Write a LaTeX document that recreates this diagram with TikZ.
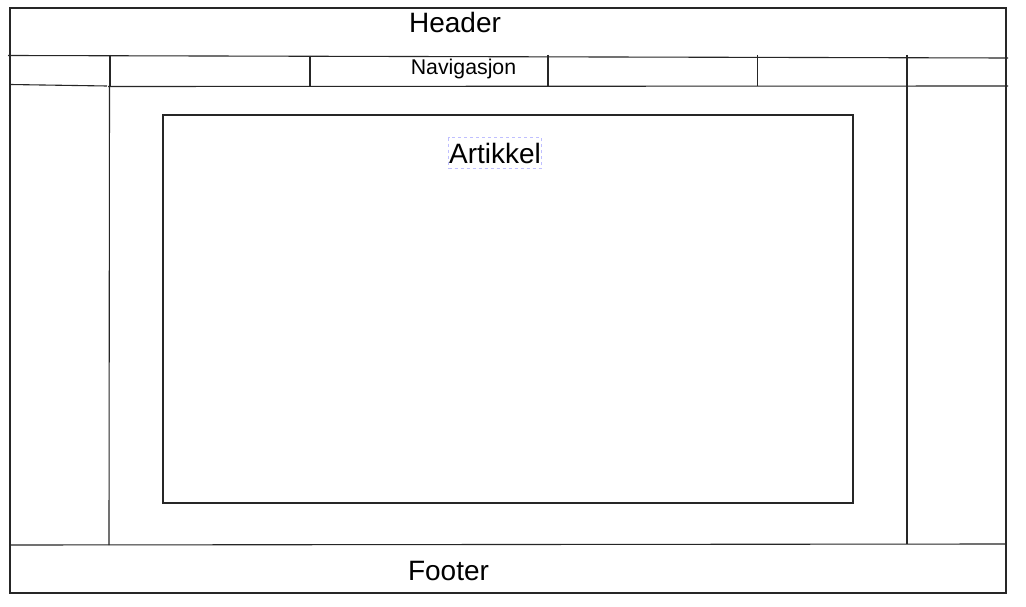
\documentclass[tikz,border=0pt]{standalone}
\usepackage{fontspec}
\setmainfont{Liberation Sans}
\begin{document}
\begin{tikzpicture}[x=1pt,y=-1pt,
  edge/.style={draw=black!85,line width=1.1pt},
  bigtxt/.style={font=\fontsize{28}{32}\selectfont,inner sep=0pt},
  navtxt/.style={font=\fontsize{21.3}{25}\selectfont,inner sep=0pt},
  selbox/.style={draw=blue!25!white,dashed,line width=0.8pt,inner xsep=0.5pt,inner ysep=5pt}]
\useasboundingbox (0,0) rectangle (1026,607);
\fill[white] (0,0) rectangle (1026,607);
% outer frame
\draw[edge] (10,8) -- (1006,8) -- (1006,593) -- (10,593) -- cycle;
% header / nav separators
\draw[edge] (8,55.5) -- (1008,58);
\draw[edge] (10,84.5) -- (107,86);
\draw[edge] (108,86.5) -- (1008,86);
% nav dividers
\draw[edge] (110,55) -- (110,87);
\draw[edge] (310,56) -- (310,87);
\draw[edge] (548,55) -- (548,86);
\draw[edge] (757.5,55) -- (757.5,86);
% sidebars
\draw[edge] (109.5,86) -- (109,545);
\draw[edge] (907,55) -- (907,544);
% footer separator
\draw[edge] (10,545) -- (1006,544);
% article
\draw[edge] (163,115) -- (853,115) -- (853,503) -- (163,503) -- cycle;
% texts
\node[bigtxt] (header) at (455,22) {Header};
\node[navtxt] (nav) at (463.5,69) {Navigasjon};
\node[bigtxt,selbox] (art) at (495,153) {Artikkel};
\node[bigtxt] (footer) at (448.5,571) {Footer};
\end{tikzpicture}
\end{document}
